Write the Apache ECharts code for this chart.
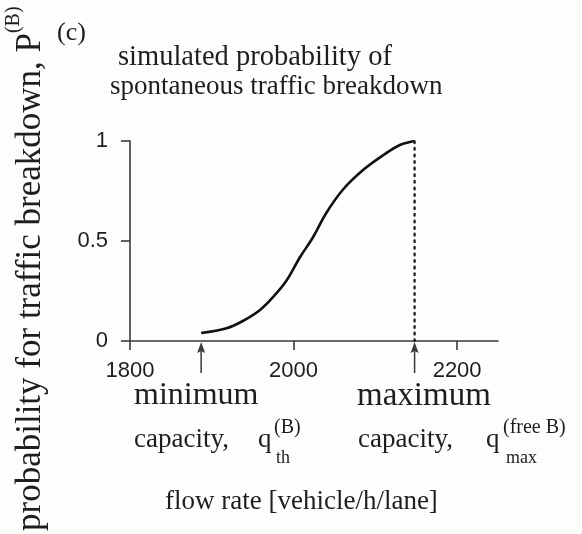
<!DOCTYPE html>
<html>
<head>
<meta charset="utf-8">
<script src="https://cdn.jsdelivr.net/npm/echarts@6/dist/echarts.min.js"></script>
<style>
  html, body { margin: 0; padding: 0; background: #fdfdfc; }
  #chart { width: 582px; height: 534px; }
</style>
</head>
<body>
<div id="chart"></div>
<script>
// Simulated probability of spontaneous traffic breakdown vs. flow rate
const flowRate    = [1887, 1918, 1938, 1959, 1975, 1991, 2008, 2024, 2040, 2061, 2085, 2110, 2130, 2148];
const probability = [0.04, 0.064, 0.10, 0.155, 0.22, 0.30, 0.42, 0.52, 0.64, 0.76, 0.855, 0.93, 0.98, 1.0];

// Capacity markers on the flow-rate axis
const minCapacity = 1887;   // q_th^(B)
const maxCapacity = 2148;   // q_max^(free B)

// Axis ticks
const xTicks = [1800, 2000, 2200];
const yTicks = [0, 0.5, 1];

const INK = '#1e1e1e';
const AXIS = '#3a3a3a';
const SERIF = '"Liberation Serif", "Times New Roman", serif';
const SANS = '"Liberation Sans", Arial, sans-serif';

const curve = flowRate.map((q, i) => [q, probability[i]]);
const maxLine = [[maxCapacity, 0], [maxCapacity, 1]];
const arrows = [[minCapacity, 0], [maxCapacity, 0]];

const chart = echarts.init(document.getElementById('chart'), null, { renderer: 'canvas' });

chart.setOption({
  animation: false,
  backgroundColor: '#fdfdfc',
  grid: { left: 130, right: 84, top: 141, bottom: 193, containLabel: false },
  xAxis: {
    type: 'value',
    min: 1800,
    max: 2250,
    interval: 200,
    splitLine: { show: false },
    axisLine: { lineStyle: { color: AXIS, width: 1.6 } },
    axisTick: { length: 9, customValues: xTicks, lineStyle: { color: AXIS, width: 1.6 } },
    axisLabel: { customValues: xTicks, margin: 19, fontFamily: SANS, fontSize: 22, color: INK,
                 formatter: v => String(v) }
  },
  yAxis: {
    type: 'value',
    min: 0,
    max: 1,
    interval: 0.5,
    splitLine: { show: false },
    axisLine: { show: true, lineStyle: { color: AXIS, width: 1.6 } },
    axisTick: { show: true, length: 9, customValues: yTicks, lineStyle: { color: AXIS, width: 1.6 } },
    axisLabel: { customValues: yTicks, margin: 22, fontFamily: SANS, fontSize: 22, color: INK,
                 formatter: v => String(v) }
  },
  series: [
    {
      type: 'line',
      data: curve,
      smooth: 0.35,
      symbol: 'none',
      lineStyle: { color: '#111', width: 2.6 }
    },
    {
      type: 'line',
      data: maxLine,
      symbol: 'none',
      lineStyle: { color: '#222', width: 2.4, type: [1.6, 5], cap: 'round' }
    },
    {
      type: 'custom',
      data: arrows,
      clip: false,
      renderItem: function (params, api) {
        const p = api.coord([api.value(0), api.value(1)]);
        const x = p[0], y = p[1];
        return {
          type: 'group',
          children: [
            { type: 'line', shape: { x1: x, y1: y + 9, x2: x, y2: y + 32 },
              style: { stroke: AXIS, lineWidth: 1.5 } },
            { type: 'polygon', shape: { points: [[x, y + 1], [x - 4, y + 12], [x, y + 10], [x + 4, y + 12]] },
              style: { fill: AXIS } }
          ]
        };
      }
    }
  ],
  graphic: [
    { type: 'text', x: 57, y: 33, style: { text: '(c)', font: '26px ' + SERIF, fill: INK, align: 'left', verticalAlign: 'middle' } },
    { type: 'text', x: 118, y: 57.5, style: { text: 'simulated probability of', font: '28.5px ' + SERIF, fill: INK, align: 'left', verticalAlign: 'middle' } },
    { type: 'text', x: 110, y: 86.5, style: { text: 'spontaneous traffic breakdown', font: '27px ' + SERIF, fill: INK, align: 'left', verticalAlign: 'middle' } },

    // vertical axis title
    {
      type: 'text', x: 26, y: 531, rotation: Math.PI / 2,
      style: {
        text: '{m|probability for traffic breakdown, P}{s|(B)}',
        align: 'left', verticalAlign: 'middle', fill: INK,
        rich: {
          m: { fontFamily: SERIF, fontSize: 35, lineHeight: 44, verticalAlign: 'bottom', fill: INK },
          s: { fontFamily: SERIF, fontSize: 20, lineHeight: 20, verticalAlign: 'top', fill: INK }
        }
      }
    },

    // minimum capacity annotation
    { type: 'text', x: 134, y: 396, style: { text: 'minimum', font: '32px ' + SERIF, fill: INK, align: 'left', verticalAlign: 'middle' } },
    { type: 'text', x: 134, y: 440, style: { text: 'capacity,', font: '27px ' + SERIF, fill: INK, align: 'left', verticalAlign: 'middle' } },
    { type: 'text', x: 258, y: 440, style: { text: 'q', font: '27px ' + SERIF, fill: INK, align: 'left', verticalAlign: 'middle' } },
    { type: 'text', x: 274, y: 428, style: { text: '(B)', font: '20px ' + SERIF, fill: INK, align: 'left', verticalAlign: 'middle' } },
    { type: 'text', x: 276, y: 458, style: { text: 'th', font: '18px ' + SERIF, fill: INK, align: 'left', verticalAlign: 'middle' } },

    // maximum capacity annotation
    { type: 'text', x: 357, y: 396, style: { text: 'maximum', font: '33px ' + SERIF, fill: INK, align: 'left', verticalAlign: 'middle' } },
    { type: 'text', x: 358, y: 440, style: { text: 'capacity,', font: '27px ' + SERIF, fill: INK, align: 'left', verticalAlign: 'middle' } },
    { type: 'text', x: 486, y: 440, style: { text: 'q', font: '27px ' + SERIF, fill: INK, align: 'left', verticalAlign: 'middle' } },
    { type: 'text', x: 503, y: 428, style: { text: '(free B)', font: '20px ' + SERIF, fill: INK, align: 'left', verticalAlign: 'middle' } },
    { type: 'text', x: 506, y: 458, style: { text: 'max', font: '18px ' + SERIF, fill: INK, align: 'left', verticalAlign: 'middle' } },

    // horizontal axis title
    { type: 'text', x: 165, y: 502, style: { text: 'flow rate [vehicle/h/lane]', font: '27px ' + SERIF, fill: INK, align: 'left', verticalAlign: 'middle' } }
  ]
});
</script>
</body>
</html>
